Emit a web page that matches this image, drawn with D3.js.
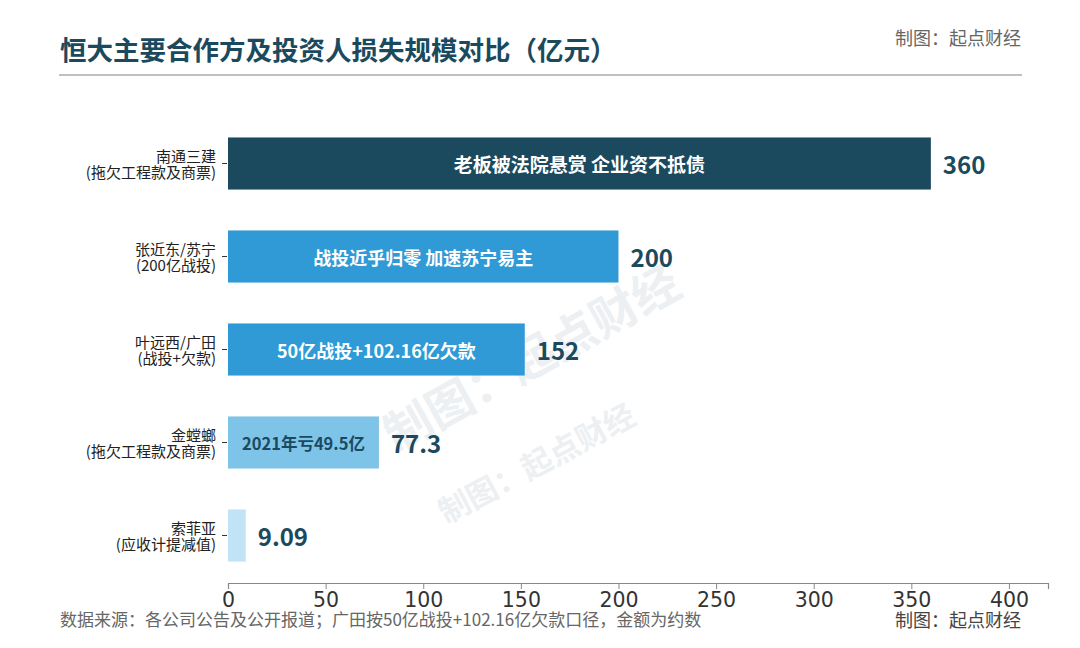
<html lang="zh">
<head>
<meta charset="UTF-8">
<title>恒大主要合作方及投资人损失规模对比</title>
<style>
  body { margin: 0; background: #fff; }
  svg text { font-family: "Noto Sans CJK SC", "Noto Sans", sans-serif; }
  .tick text { font-family: "DejaVu Sans", "Noto Sans CJK SC", sans-serif; }
</style>
</head>
<body>
<div id="chart"></div>
<script src="https://d3js.org/d3.v7.min.js"></script>
<script>
// data
const names = ["南通三建", "张近东/苏宁", "叶远西/广田", "金螳螂", "索菲亚"];
const notes = ["(拖欠工程款及商票)", "(200亿战投)", "(战投+欠款)", "(拖欠工程款及商票)", "(应收计提减值)"];
const losses = [360, 200, 152, 77.3, 9.09];
const valueLabels = ["360", "200", "152", "77.3", "9.09"];
const barNotes = ["老板被法院悬赏 企业资不抵债", "战投近乎归零 加速苏宁易主", "50亿战投+102.16亿欠款", "2021年亏49.5亿", ""];
const xTicks = [0, 50, 100, 150, 200, 250, 300, 350, 400];

const W = 1080, H = 648;
const barColors = ["#1b4a5e", "#2f9ad5", "#2f9ad5", "#7ec3e8", "#c0e3f5"];
const noteColors = ["#fff", "#fff", "#fff", "#1b4a5e", "#fff"];
const noteSizes = [19, 18, 18, 16.5, 15];

const svg = d3.select("#chart").append("svg")
  .attr("width", W).attr("height", H);

// watermark
const wm = svg.append("g").attr("fill", "#edf0f2");
wm.append("text")
  .attr("transform", "translate(534,362) rotate(-29)")
  .attr("text-anchor", "middle").attr("dominant-baseline", "middle")
  .attr("font-size", 47).attr("font-weight", 700)
  .text("制图：起点财经");
wm.append("text")
  .attr("transform", "translate(538,466) rotate(-28)")
  .attr("text-anchor", "middle").attr("dominant-baseline", "middle")
  .attr("font-size", 31).attr("font-weight", 700)
  .text("制图：起点财经");

// header
svg.append("text")
  .attr("x", 60).attr("y", 60)
  .attr("font-size", 26.5).attr("font-weight", 700)
  .attr("fill", "#1b4a5e")
  .text("恒大主要合作方及投资人损失规模对比（亿元）");
svg.append("text")
  .attr("x", 1021).attr("y", 45)
  .attr("text-anchor", "end")
  .attr("font-size", 18).attr("fill", "#666")
  .text("制图：起点财经");
svg.append("line")
  .attr("x1", 59).attr("x2", 1022)
  .attr("y1", 75).attr("y2", 75)
  .attr("stroke", "#c0c0c0").attr("stroke-width", 2);

// scales
const x = d3.scaleLinear().domain([0, 420]).range([228, 1048]);
const y = d3.scaleBand().domain(names).range([117, 582])
  .paddingInner(0.44).paddingOuter(0.22);

// x axis
const xAxis = svg.append("g")
  .attr("transform", "translate(0,583)")
  .call(d3.axisBottom(x).tickValues(xTicks).tickSize(6).tickPadding(3));
xAxis.select(".domain").attr("stroke", "#888").attr("stroke-width", 1.2);
xAxis.selectAll(".tick line").attr("stroke", "#888");
xAxis.selectAll(".tick text").attr("font-size", 20.5).attr("fill", "#333");

// y axis
const yAxis = svg.append("g")
  .attr("transform", "translate(227,0)")
  .call(d3.axisLeft(y).tickSize(5).tickFormat(""));
yAxis.select(".domain").remove();
yAxis.selectAll(".tick line").attr("stroke", "#333");

// two-line category labels
const cat = svg.append("g")
  .attr("text-anchor", "end")
  .attr("font-size", 15).attr("fill", "#222");
cat.selectAll("text.name")
  .data(names)
  .join("text")
  .attr("class", "name")
  .attr("x", 216)
  .attr("y", d => y(d) + y.bandwidth() / 2 - 2)
  .text(d => d);
cat.selectAll("text.note")
  .data(notes)
  .join("text")
  .attr("class", "note")
  .attr("x", 216)
  .attr("y", (d, i) => y(names[i]) + y.bandwidth() / 2 + 14)
  .text(d => d);

// bars
svg.append("g").selectAll("rect")
  .data(losses)
  .join("rect")
  .attr("x", x(0))
  .attr("y", (d, i) => y(names[i]))
  .attr("width", d => x(d) - x(0))
  .attr("height", y.bandwidth())
  .attr("fill", (d, i) => barColors[i]);

// notes inside bars
svg.append("g").selectAll("text")
  .data(losses)
  .join("text")
  .attr("x", d => (x(0) + x(d)) / 2)
  .attr("y", (d, i) => y(names[i]) + y.bandwidth() / 2)
  .attr("text-anchor", "middle")
  .attr("dominant-baseline", "central")
  .attr("font-size", (d, i) => noteSizes[i])
  .attr("font-weight", 700)
  .attr("fill", (d, i) => noteColors[i])
  .text((d, i) => barNotes[i]);

// value labels
svg.append("g").selectAll("text")
  .data(losses)
  .join("text")
  .attr("x", d => x(d) + 12)
  .attr("y", (d, i) => y(names[i]) + y.bandwidth() / 2)
  .attr("dominant-baseline", "central")
  .attr("font-size", 24).attr("font-weight", 700)
  .attr("fill", "#1b4a5e")
  .text((d, i) => valueLabels[i]);

// footer
svg.append("text")
  .attr("x", 60).attr("y", 626)
  .attr("font-size", 17).attr("fill", "#666")
  .text("数据来源：各公司公告及公开报道；广田按50亿战投+102.16亿欠款口径，金额为约数");
svg.append("text")
  .attr("x", 1021).attr("y", 627)
  .attr("text-anchor", "end")
  .attr("font-size", 18).attr("fill", "#444")
  .text("制图：起点财经");
</script>
</body>
</html>
